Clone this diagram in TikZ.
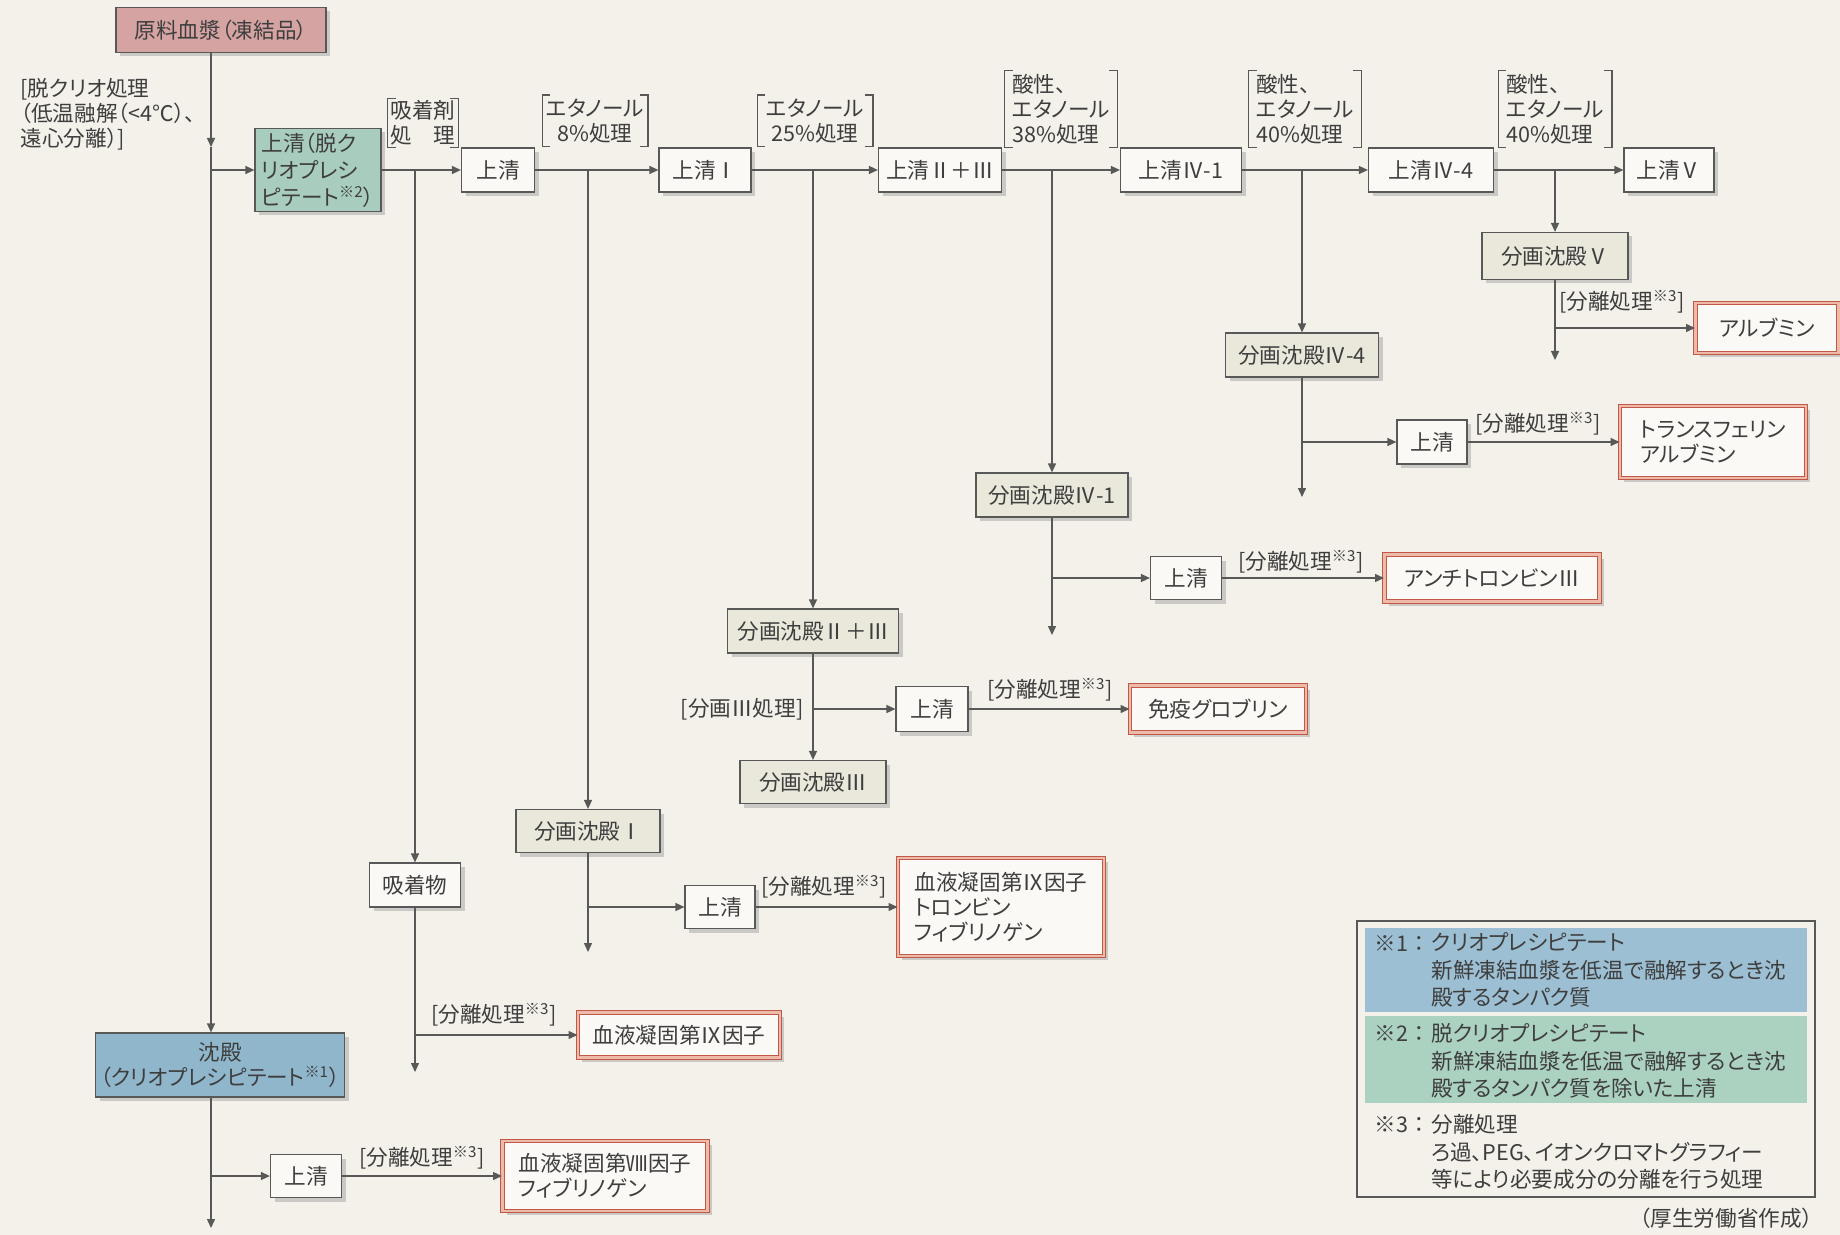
\documentclass[tikz,border=0pt]{standalone}
\usepackage{fontspec}
\setmainfont{Noto Sans CJK JP}[RawFeature={+palt}]
\usepackage{xcolor}
\usetikzlibrary{arrows.meta,shadows,calc}
\tikzset{>={Triangle[length=4.5pt,width=4pt]}}
\definecolor{paper}{RGB}{243,241,234}
\definecolor{ink}{RGB}{62,62,62}
\definecolor{wire}{RGB}{88,88,88}
\definecolor{rawpink}{RGB}{214,163,163}
\definecolor{cryogreen}{RGB}{168,205,190}
\definecolor{cryoblue}{RGB}{143,182,203}
\definecolor{fracbeige}{RGB}{233,232,219}
\definecolor{prodred}{RGB}{192,88,72}
\definecolor{prodpale}{RGB}{238,186,170}
\definecolor{noteblue}{RGB}{157,191,211}
\definecolor{notegreen}{RGB}{171,209,193}
\tikzset{
  wh/.style 2 args={minimum width=#1*0.5pt,minimum height=#2*0.5pt},
  box/.style={draw=wire,line width=0.6pt,fill=white!55!paper,text=ink,inner sep=2pt,
    drop shadow={shadow xshift=2pt,shadow yshift=-2pt,fill=black!40,opacity=0.45}},
  frac/.style={box,fill=fracbeige},
  prod/.style={box,draw=prodred,double=prodpale,double distance=1.1pt,line width=0.5pt,align=left},
  sep/.style={text=ink,inner sep=1pt},
  flow/.style={->,draw=wire,line width=0.7pt},
  brk/.style={draw=wire,line width=0.6pt},
}
\newcommand\bracketpair[1]{%
  \draw[brk] ([xshift=4pt]#1.north west) -- (#1.north west) -- (#1.south west) -- ([xshift=4pt]#1.south west);
  \draw[brk] ([xshift=-4pt]#1.north east) -- (#1.north east) -- (#1.south east) -- ([xshift=-4pt]#1.south east);}

\begin{document}
\begin{tikzpicture}[x=0.5pt,y=-0.5pt,font=\fontsize{10.8}{12.5}\selectfont]
  \useasboundingbox (0,0) rectangle (1840,1235);
  \fill[paper] (0,0) rectangle (1840,1235);

  % Plasma and cryo step
  \node[box,fill=rawpink,wh={210}{45}] (genryo) at (221,30) {原料血漿（凍結品）};
  \node[sep,anchor=west,align=left] (cryolab) at (18,114) {[脱クリオ処理\\（低温融解（<4℃）、\\遠心分離）]};
  \node[box,fill=cryogreen,wh={126}{83},align=left,font=\fontsize{10.8}{13.5}\selectfont] (datsu) at (318,170) {上清（脱ク\\リオプレシ\\ピテート\textsuperscript{※2}）};
  \node[box,fill=cryoblue,wh={249}{64},align=center] (chinden) at (220,1065) {沈殿\\（クリオプレシピテート\textsuperscript{※1}）};

  % Supernatant row
  \node[box,wh={73}{44}] (js0) at (498,170) {上清};
  \node[box,wh={92}{44}] (js1) at (705,170) {上清Ⅰ};
  \node[box,wh={123}{44}] (js23) at (940,170) {上清Ⅱ＋Ⅲ};
  \node[box,wh={121}{44}] (js41) at (1181,170) {上清Ⅳ-1};
  \node[box,wh={125}{44}] (js44) at (1431,170) {上清Ⅳ-4};
  \node[box,wh={90}{44}] (js5) at (1669,170) {上清Ⅴ};

  % Treatments
  \node[sep,align=left,wh={70}{47}] (adsorb) at (423,123) {吸着剤\\処　理};
  \node[sep,align=center,wh={105}{51}] (eth8) at (595,121) {エタノール\\8\%処理};
  \node[sep,align=center,wh={115}{51}] (eth25) at (815,121) {エタノール\\25\%処理};
  \node[sep,align=left,wh={112}{76}] (acid38) at (1061,109) {酸性、\\エタノール\\38\%処理};
  \node[sep,align=left,wh={112}{76}] (acid40a) at (1305,109) {酸性、\\エタノール\\40\%処理};
  \node[sep,align=left,wh={113}{76}] (acid40b) at (1555,109) {酸性、\\エタノール\\40\%処理};
  \bracketpair{adsorb}
  \bracketpair{eth8}
  \bracketpair{eth25}
  \bracketpair{acid38}
  \bracketpair{acid40a}
  \bracketpair{acid40b}

  % Fractions
  \node[frac,wh={146}{47}] (kc5) at (1555,256) {分画沈殿Ⅴ};
  \node[frac,wh={153}{44}] (kc44) at (1302,355) {分画沈殿Ⅳ-4};
  \node[frac,wh={152}{44}] (kc41) at (1052,495) {分画沈殿Ⅳ-1};
  \node[frac,wh={171}{44}] (kc23) at (813,631) {分画沈殿Ⅱ＋Ⅲ};
  \node[frac,wh={146}{43}] (kc3) at (813,782) {分画沈殿Ⅲ};
  \node[frac,wh={144}{43}] (kc1) at (588,831) {分画沈殿Ⅰ};
  \node[box,wh={91}{44}] (kyu) at (415,885) {吸着物};

  % Side supernatants
  \node[box,wh={70}{44}] (js44b) at (1432,442) {上清};
  \node[box,wh={71}{43}] (js41b) at (1186,578) {上清};
  \node[box,wh={72}{45}] (js23b) at (932,709) {上清};
  \node[box,wh={70}{43}] (js1b) at (720,907) {上清};
  \node[box,wh={71}{43}] (jsc) at (306,1176) {上清};

  % Products
  \node[prod,wh={143}{50}] (alb) at (1767,328) {アルブミン};
  \node[prod,wh={186}{72}] (tf) at (1713,442) {トランスフェリン\\アルブミン};
  \node[prod,wh={215}{47}] (at3) at (1492,578) {アンチトロンビンⅢ};
  \node[prod,wh={176}{47}] (igg) at (1218,709) {免疫グロブリン};
  \node[prod,wh={206}{98}] (p9tf) at (1001,907) {血液凝固第Ⅸ因子\\トロンビン\\フィブリノゲン};
  \node[prod,wh={202}{45}] (p9) at (679,1035) {血液凝固第Ⅸ因子};
  \node[prod,wh={205}{70}] (p8) at (605,1176) {血液凝固第Ⅷ因子\\フィブリノゲン};

  % Separation labels
  \node[sep] (lalb) at (1622,302) {[分離処理\textsuperscript{※3}]};
  \node[sep] (ltf) at (1538,424) {[分離処理\textsuperscript{※3}]};
  \node[sep] (lat3) at (1301,562) {[分離処理\textsuperscript{※3}]};
  \node[sep] (ligg) at (1050,690) {[分離処理\textsuperscript{※3}]};
  \node[sep] (lfr3) at (742,709) {[分画Ⅲ処理]};
  \node[sep] (lp9tf) at (824,887) {[分離処理\textsuperscript{※3}]};
  \node[sep] (lp9) at (494,1015) {[分離処理\textsuperscript{※3}]};
  \node[sep] (lp8) at (422,1158) {[分離処理\textsuperscript{※3}]};

  % Main column
  \coordinate (dA) at (211,147);
  \coordinate (dB) at (211,1228);
  \draw[flow] (genryo.south -| dA) -- (dA);
  \draw[flow] (dA) -- (chinden.north -| dA);
  \draw[flow] (dA |- datsu.west) -- (datsu.west);
  \draw[flow] (chinden.south -| dB) -- (dB);
  \draw[flow] (dB |- jsc.west) -- (jsc.west);
  \draw[flow] (jsc.east) -- (p8.west);

  % Top row
  \draw[flow] (datsu.east) -- (js0.west);
  \draw[flow] (js0.east) -- (js1.west);
  \draw[flow] (js1.east) -- (js23.west);
  \draw[flow] (js23.east) -- (js41.west);
  \draw[flow] (js41.east) -- (js44.west);
  \draw[flow] (js44.east) -- (js5.west);

  % Adsorbent branch
  \coordinate (k0) at (415,170);
  \coordinate (k0e) at (415,1072);
  \draw[flow] (k0) -- (kyu.north);
  \draw[flow] (kyu.south) -- (k0e);
  \draw[flow] (k0e |- p9.west) -- (p9.west);

  % Fraction I
  \coordinate (k1) at (588,170);
  \coordinate (k1e) at (588,952);
  \draw[flow] (k1) -- (kc1.north);
  \draw[flow] (kc1.south) -- (k1e);
  \draw[flow] (k1e |- js1b.west) -- (js1b.west);
  \draw[flow] (js1b.east) -- (p9tf.west);

  % Fraction II+III
  \coordinate (k2) at (813,170);
  \draw[flow] (k2) -- (kc23.north);
  \draw[flow] (kc23.south) -- (kc3.north);
  \draw[flow] (kc23.south |- js23b.west) -- (js23b.west);
  \draw[flow] (js23b.east) -- (igg.west);

  % Fraction IV-1
  \coordinate (k3) at (1052,170);
  \coordinate (k3e) at (1052,635);
  \draw[flow] (k3) -- (kc41.north);
  \draw[flow] (kc41.south) -- (k3e);
  \draw[flow] (k3e |- js41b.west) -- (js41b.west);
  \draw[flow] (js41b.east) -- (at3.west);

  % Fraction IV-4
  \coordinate (k4) at (1302,170);
  \coordinate (k4e) at (1302,497);
  \draw[flow] (k4) -- (kc44.north);
  \draw[flow] (kc44.south) -- (k4e);
  \draw[flow] (k4e |- js44b.west) -- (js44b.west);
  \draw[flow] (js44b.east) -- (tf.west);

  % Fraction V
  \coordinate (k5) at (1555,170);
  \coordinate (k5e) at (1555,360);
  \draw[flow] (k5) -- (kc5.north);
  \draw[flow] (kc5.south) -- (k5e);
  \draw[flow] (k5e |- alb.west) -- (alb.west);

  % Notes
  \draw[wire,line width=0.6pt] (1357,921) rectangle (1815,1197);
  \fill[noteblue] (1365,928) rectangle (1807,1012);
  \fill[notegreen] (1365,1016) rectangle (1807,1103);
  \node[sep,anchor=west] (m1) at (1372,943) {※1\hspace{0.25em}：};
  \node[sep,anchor=west,align=left,font=\fontsize{10.8}{13.7}\selectfont] (n1) at (1429,970) {クリオプレシピテート\\新鮮凍結血漿を低温で融解するとき沈\\殿するタンパク質};
  \node[sep,anchor=west] (m2) at (1372,1033) {※2\hspace{0.25em}：};
  \node[sep,anchor=west,align=left,font=\fontsize{10.8}{13.7}\selectfont] (n2) at (1429,1061) {脱クリオプレシピテート\\新鮮凍結血漿を低温で融解するとき沈\\殿するタンパク質を除いた上清};
  \node[sep,anchor=west] (m3) at (1372,1125) {※3\hspace{0.25em}：};
  \node[sep,anchor=west,align=left,font=\fontsize{10.8}{13.7}\selectfont] (n3) at (1429,1152) {分離処理\\ろ過、PEG、イオンクロマトグラフィー\\等により必要成分の分離を行う処理};
  \node[sep,anchor=east] (src) at (1815,1218) {（厚生労働省作成）};
\end{tikzpicture}
\end{document}
